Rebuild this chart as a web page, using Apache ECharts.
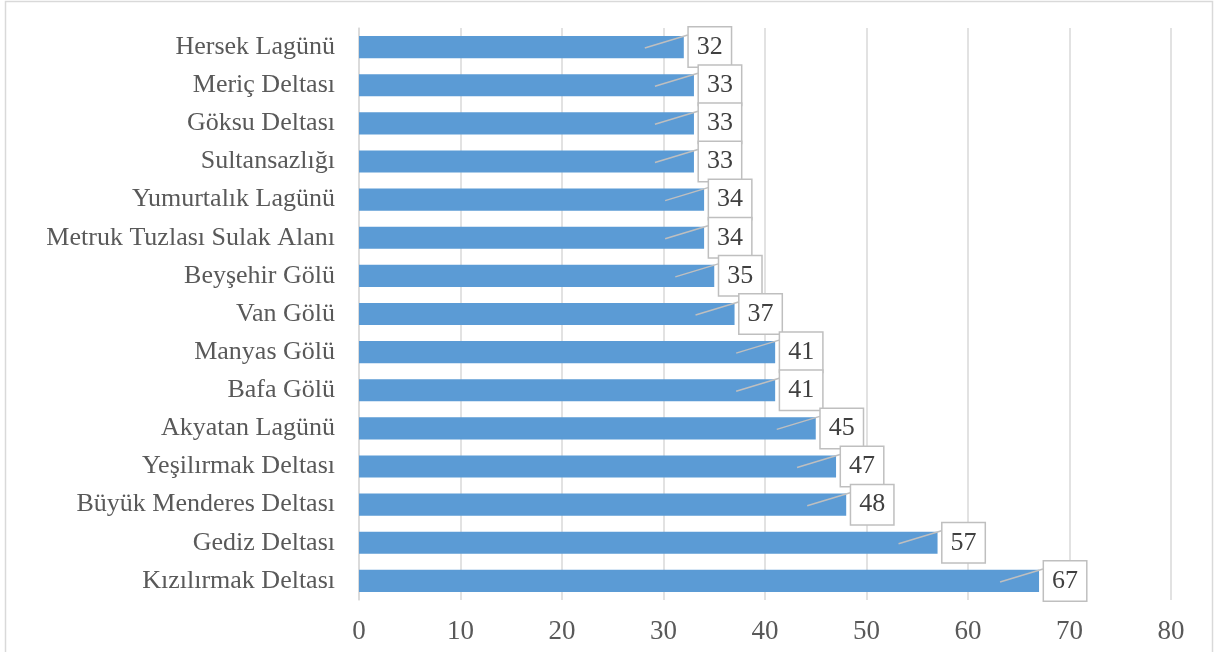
<!DOCTYPE html>
<html><head><meta charset="utf-8">
<script src="https://cdn.jsdelivr.net/npm/echarts@6/dist/echarts.min.js"></script>
<style>html,body{margin:0;padding:0;background:#fff}#c{width:1217px;height:652px}</style>
</head><body><div id="c"></div>
<script>
const categories = ["Hersek Lagünü","Meriç Deltası","Göksu Deltası","Sultansazlığı","Yumurtalık Lagünü","Metruk Tuzlası Sulak Alanı","Beyşehir Gölü","Van Gölü","Manyas Gölü","Bafa Gölü","Akyatan Lagünü","Yeşilırmak Deltası","Büyük Menderes Deltası","Gediz Deltası","Kızılırmak Deltası"];
const values = [32,33,33,33,34,34,35,37,41,41,45,47,48,57,67];
const xTicks = [0,10,20,30,40,50,60,70,80];

const font = '"Liberation Serif","Times New Roman",serif';
const chart = echarts.init(document.getElementById('c'));
chart.setOption({
  animation:false,
  graphic:[{type:'rect',shape:{x:5.5,y:1.5,width:1207,height:652},style:{fill:'none',stroke:'#d9d9d9',lineWidth:1.5},silent:true}],
  grid:{left:359,right:46,top:28,bottom:52},
  xAxis:{type:'value',min:xTicks[0],max:xTicks[xTicks.length-1],interval:10,
    axisLine:{show:false},axisTick:{show:false},
    splitLine:{lineStyle:{color:'#d9d9d9',width:1.5}},
    axisLabel:{fontFamily:font,fontSize:27,color:'#595959',margin:18}},
  yAxis:{type:'category',data:categories,inverse:true,
    axisLine:{lineStyle:{color:'#d9d9d9',width:1.5}},axisTick:{show:false},
    axisLabel:{fontFamily:font,fontSize:26,color:'#595959',margin:24}},
  series:[
    {type:'bar',data:values,barCategoryGap:'42%',itemStyle:{color:'#5b9bd5'},
     label:{show:true,position:'right',distance:5,fontFamily:font,fontSize:26,color:'#404040',
       backgroundColor:'#fff',borderColor:'#bfbfbf',borderWidth:1.5,padding:[8,8,5,8]},z:2},
    {type:'custom',data:values.map((v,i)=>[v,i]),z:3,silent:true,
     renderItem:function(params,api){
       const p=api.coord([api.value(0),api.value(1)]);
       return {type:'line',shape:{x1:p[0]-39,y1:p[1]+1,x2:p[0]+4,y2:p[1]-12},
         style:{stroke:'#bfbfbf',lineWidth:1.5}};
     }}
  ]
});
</script></body></html>
